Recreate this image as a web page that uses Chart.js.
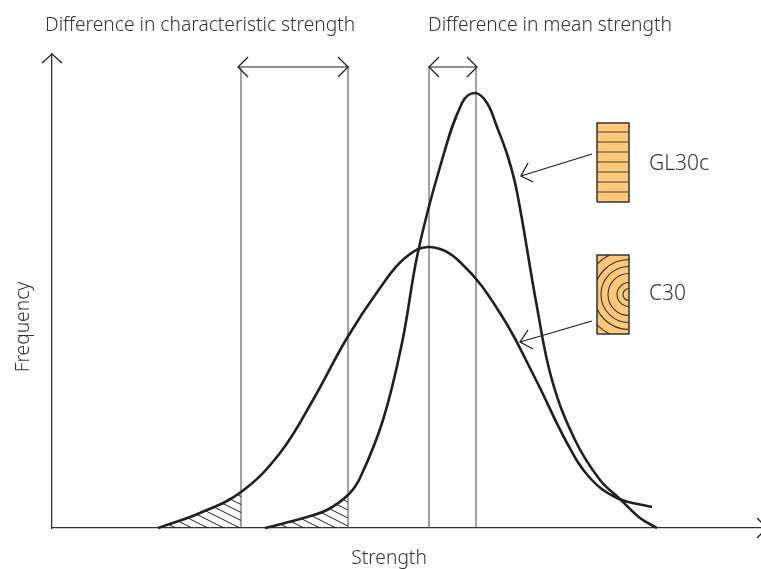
<!DOCTYPE html>
<html><head><meta charset="utf-8">
<style>html,body{margin:0;padding:0;background:#fff}canvas{display:block}</style>
<script src="https://cdn.jsdelivr.net/npm/chart.js@4"></script></head>
<body><canvas id="c" width="761" height="569"></canvas>
<script>
// Values are in arbitrary strength / frequency units (the chart has no ticks)
const c30Strength = [106,148,189,228,261,295,328,353,378,408,448,483,515,538,565,600];
const c30Frequency = [0,15,36,75,128,190,240,270,281,266,215,150,85,50,30,21];
const glStrength = [213,233,255,275,296,308,331,350,366,388,410,423,435,445,456,465,485,500,523,548,568,588,605];
const glFrequency = [0,5,11,18,33,50,108,185,276,361,425,435,425,401,371,336,221,148,88,48,29,10,0];
const c30TailStrength = [106,148,189];
const c30TailFrequency = [0,15,36];
const glTailStrength = [213,233,255,275,296];
const glTailFrequency = [0,5,11,18,33];
const charStrengths = [189,296];
const meanStrengths = [377,424];
const guideTop = 460;
const axisXMax = 709, axisYMax = 474;
const labelTexts = ['Difference in characteristic strength','Difference in mean strength','GL30c','C30','Strength','Frequency'];

const pts = (xs,ys)=>xs.map((x,i)=>({x,y:ys[i]}));
const ink='#231f20', thin='#444', orange='#ffc878';

function hatch(){
  const t=document.createElement('canvas');t.width=16;t.height=8;
  const g=t.getContext('2d');g.strokeStyle='#222';g.lineWidth=1;
  g.beginPath();g.moveTo(-16,-8);g.lineTo(32,16);g.moveTo(-16,-16);g.lineTo(32,8);g.moveTo(-16,0);g.lineTo(32,24);g.stroke();
  return g.createPattern(t,'repeat');
}
const pat=hatch();
const line=(data,color,width,extra)=>Object.assign({data,borderColor:color,borderWidth:width,pointRadius:0,showLine:true,clip:false,fill:false,tension:0},extra||{});
const curve=(xs,ys)=>line(pts(xs,ys),ink,2.6,{tension:0.4});
const tail=(xs,ys)=>line(pts(xs,ys),'rgba(0,0,0,0)',0,{tension:0.4,fill:'origin',backgroundColor:pat});
const guide=x=>line(pts([x,x],[0,guideTop]),thin,1);
const arrow=(a,b,c)=>line([a,b,c],ink,1.3);

// GL30c lamellae block and C30 sawn block
const blockL=545, blockR=577, glBot=326, glTop=405, cBot=194, cTop=273;
const rect=(b,t)=>[{x:blockL,y:b},{x:blockR,y:b},{x:blockR,y:t},{x:blockL,y:t},{x:blockL,y:b}];
const lamellae=[336,346,356,366,376,386,396];
const lamLines=[];lamellae.forEach(y=>{lamLines.push({x:blockL,y},{x:blockR,y},{x:blockL,y:null});});
const ringRadii=[6,12,21,28,35,44];

// Chart.js paints the first dataset last, so the list runs from top layer to bottom layer
const datasets=[
  arrow({x:476,y:198},{x:468,y:186},{x:481,y:179}),
  line(pts([540,468],[207,186]),ink,1.3),
  arrow({x:476,y:365},{x:469,y:352},{x:481,y:346}),
  line(pts([540,469],[374,352]),ink,1.3),
  curve(c30Strength,c30Frequency),curve(glStrength,glFrequency),
  line(lamLines,'#444',1.2,{spanGaps:false}),
  line(rect(glBot,glTop),'#333',1.5,{fill:'shape',backgroundColor:orange}),
  line(rect(cBot,cTop),'#333',1.5,{fill:'shape',backgroundColor:orange}),
  arrow({x:-10,y:465},{x:0,y:474},{x:10,y:465}),
  arrow({x:705,y:10},{x:715,y:0},{x:705,y:-10}),
  line(pts([186,297],[461,461]),ink,1.2),
  arrow({x:196,y:471},{x:186,y:461},{x:196,y:451}),arrow({x:286,y:471},{x:296,y:461},{x:286,y:451}),
  line(pts([377,425],[461,461]),ink,1.2),
  arrow({x:387,y:471},{x:377,y:461},{x:387,y:451}),arrow({x:415,y:471},{x:425,y:461},{x:415,y:451}),
  guide(charStrengths[0]),guide(charStrengths[1]),guide(meanStrengths[0]),guide(meanStrengths[1]),
  tail(c30TailStrength,c30TailFrequency),tail(glTailStrength,glTailFrequency)
];

const deco={id:'deco',afterDatasetsDraw(ch){
  const {ctx,scales:{x,y}}=ch;
  const X=v=>x.getPixelForValue(v),Y=v=>y.getPixelForValue(v);
  ctx.save();ctx.beginPath();ctx.rect(X(blockL),Y(cTop),X(blockR)-X(blockL),Y(cBot)-Y(cTop));ctx.clip();
  ctx.strokeStyle='#333';ctx.lineWidth=1.1;
  ringRadii.forEach(r=>{ctx.beginPath();ctx.arc(X(blockR),Y((cBot+cTop)/2),r,0,Math.PI*2);ctx.stroke();});
  ctx.restore();
  ctx.save();ctx.fillStyle='#333';ctx.textBaseline='alphabetic';
  ctx.font='300 19.2px "Noto Sans"';
  const t=(s,ux,uy,al)=>{ctx.textAlign=al||'left';ctx.fillText(s,X(ux),Y(uy));};
  t(labelTexts[0],-7,497);t(labelTexts[1],376,497);
  t(labelTexts[4],337,-36,'center');
  ctx.font='300 21px "Noto Sans"';
  t(labelTexts[2],597,358);t(labelTexts[3],597,228);
  ctx.font='300 19.2px "Noto Sans"';
  ctx.translate(X(-23),Y(201));ctx.rotate(-Math.PI/2);ctx.textAlign='center';ctx.fillText(labelTexts[5],0,0);
  ctx.restore();
}};

new Chart(document.getElementById('c'),{type:'scatter',data:{datasets},plugins:[deco],options:{
  responsive:false,animation:false,
  layout:{padding:{left:52,right:0,top:54,bottom:41}},
  plugins:{legend:{display:false},tooltip:{enabled:false}},
  scales:{
    x:{type:'linear',min:0,max:axisXMax,ticks:{display:false},grid:{display:false,drawTicks:false},border:{color:'#333',width:1.3}},
    y:{type:'linear',min:0,max:axisYMax,ticks:{display:false},grid:{display:false,drawTicks:false},border:{color:'#333',width:1.3}}
  }
}});
</script></body></html>
